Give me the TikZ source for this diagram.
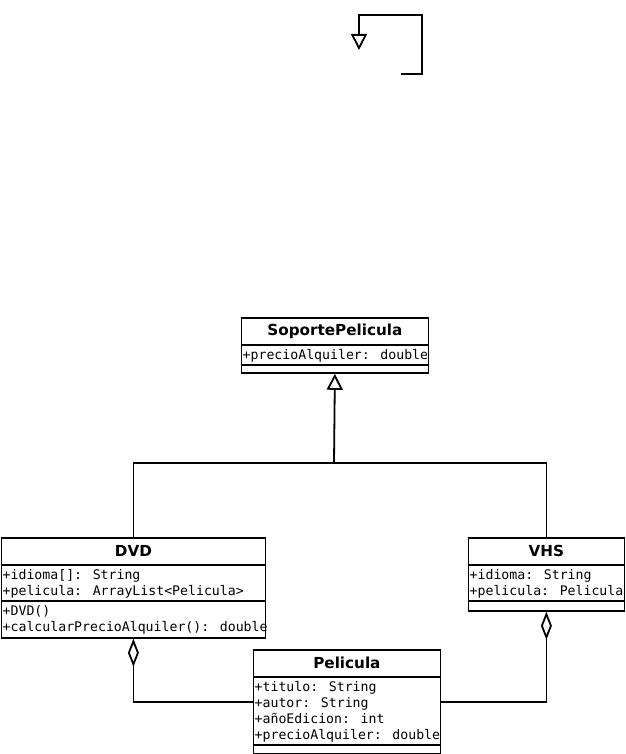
\documentclass[tikz,border=0pt]{standalone}
\usepackage{fontspec}
\usetikzlibrary{arrows.meta}
\newfontfamily\nombrefont{DejaVu Sans}
\newfontfamily\campofont{DejaVu Sans Mono}
\tikzset{
 linea/.style={line width=1.8pt},
 clase/.style={draw, line width=1.8pt, anchor=north west, inner sep=0pt},
 nombre/.style={font=\nombrefont\bfseries\fontsize{15.2}{17}\selectfont, inner sep=0pt},
 campo/.style={font=\campofont\fontsize{13.2}{16}\selectfont, anchor=base west, inner sep=0pt},
 hereda/.style={-{Triangle[open, length=16pt, width=16pt]}},
 agrega/.style={{Diamond[open, length=28pt, width=11pt]}-},
}
\begin{document}
\begin{tikzpicture}[x=1pt, y=-1pt]
 \useasboundingbox (0,0) rectangle (625,754);
 % clases
 \node[clase, minimum width=187pt, minimum height=55pt] (soporte) at (240.5,317) {};
 \node[clase, minimum width=264pt, minimum height=100pt] (dvd) at (0.5,537) {};
 \node[clase, minimum width=156pt, minimum height=73pt] (vhs) at (467.5,537) {};
 \node[clase, minimum width=187pt, minimum height=104pt] (pelicula) at (252.5,649) {};
 \foreach \c/\d in {soporte/28, soporte/48, dvd/28, dvd/64, vhs/28, vhs/64, pelicula/28, pelicula/96}{
 \draw[linea] ([shift={(0,\d)}]\c.north west) -- ([shift={(0,\d)}]\c.north east);}
 % nombres
 \node[nombre] (soporteN) at ([shift={(0,14)}]soporte.north) {SoportePelicula};
 \node[nombre] (dvdN) at ([shift={(0,14)}]dvd.north) {DVD};
 \node[nombre] (vhsN) at ([shift={(0,14)}]vhs.north) {VHS};
 \node[nombre] (peliculaN) at ([shift={(0,14)}]pelicula.north) {Pelicula};
 % atributos y metodos
 \foreach \t [count=\i] in {{+precioAlquiler: double}}{
 \node[campo] (soporteA\i) at ([shift={(2,26+16*\i)}]soporte.north west) {\t};}
 \foreach \t [count=\i] in {{+idioma[]: String}, {+pelicula: ArrayList<Pelicula>}}{
 \node[campo] (dvdA\i) at ([shift={(2,26+16*\i)}]dvd.north west) {\t};}
 \foreach \t [count=\i] in {{+DVD()}, {+calcularPrecioAlquiler(): double}}{
 \node[campo] (dvdM\i) at ([shift={(2,62+16*\i)}]dvd.north west) {\t};}
 \foreach \t [count=\i] in {{+idioma: String}, {+pelicula: Pelicula}}{
 \node[campo] (vhsA\i) at ([shift={(2,26+16*\i)}]vhs.north west) {\t};}
 \foreach \t [count=\i] in {{+titulo: String}, {+autor: String}, {+añoEdicion: int}, {+precioAlquiler: double}}{
 \node[campo] (peliculaA\i) at ([shift={(2,26+16*\i)}]pelicula.north west) {\t};}
 % relaciones
 \coordinate (union) at (334,463);
 \draw[linea] (dvd.north) |- (union) -| (vhs.north);
 \draw[linea, hereda] (union) -- (soporte.south);
 \draw[linea, agrega] (dvd.south) |- (pelicula.west);
 \draw[linea, agrega] (vhs.south) |- (pelicula.east);
 % bucle suelto
 \coordinate (bucleA) at (401,74);
 \coordinate (bucleB) at (359,50);
 \draw[linea, hereda] (bucleA) -| (422,15) -| (bucleB);
\end{tikzpicture}
\end{document}
